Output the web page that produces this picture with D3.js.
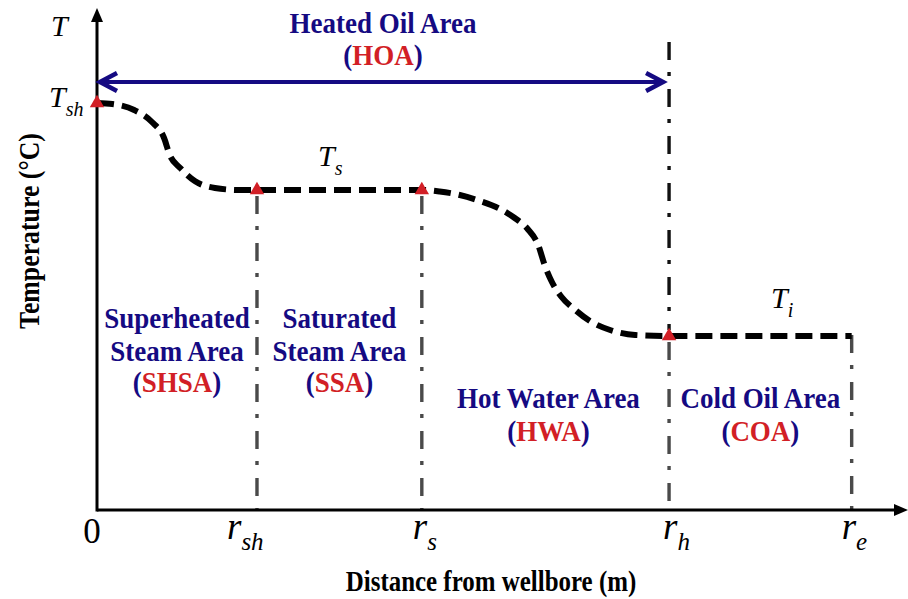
<!DOCTYPE html>
<html><head><meta charset="utf-8">
<script src="https://cdn.jsdelivr.net/npm/d3@7"></script>
<style>body{margin:0;background:#fff}svg{display:block}</style>
</head><body><svg id="c" width="908" height="599"></svg>
<script>
// ---------- data ----------
const tickValues = [0, 0.198, 0.402, 0.708, 0.934];
const tickMain = ["0", "r", "r", "r", "r"];
const tickSub = ["", "sh", "s", "h", "e"];
const levelValues = [0.814, 0.640, 0.348];
const levelSubs = ["sh", "s", "i"];
const curveX = [0, 0.019, 0.046, 0.068, 0.083, 0.090, 0.103, 0.121, 0.146, 0.177, 0.198,
                0.402, 0.424, 0.449, 0.474, 0.499, 0.517, 0.533, 0.546, 0.554, 0.563, 0.575,
                0.592, 0.610, 0.635, 0.666, 0.708, 0.934];
const curveY = [0.814, 0.812, 0.800, 0.776, 0.744, 0.710, 0.684, 0.658, 0.644, 0.640, 0.640,
                0.640, 0.637, 0.630, 0.618, 0.602, 0.584, 0.562, 0.530, 0.490, 0.456, 0.426,
                0.400, 0.378, 0.360, 0.350, 0.348, 0.348];
const markerX = [0, 0.198, 0.402, 0.708];
const markerY = [0.814, 0.640, 0.640, 0.348];
const regionTitles = [["Superheated", "Steam Area"], ["Saturated", "Steam Area"], ["Hot Water Area"], ["Cold Oil Area"]];
const regionAbbr = ["SHSA", "SSA", "HWA", "COA"];
const hoaTitle = "Heated Oil Area";
const hoaAbbr = "HOA";
const xTitle = "Distance from wellbore (m)";
const yTitle = "Temperature (°C)";

// ---------- layout ----------
const svg = d3.select("#c");
const x = d3.scaleLinear().domain([0, 1]).range([97, 905]);
const y = d3.scaleLinear().domain([0, 1]).range([510, 10]);
const BLUE = "#150a82", RED = "#d21f26", GRAY = "#4a4a4a";
const serif = "'Liberation Serif','Times New Roman',serif";
const tickLabelShift = [-5, -30, -9, -6, -10];

// vertical dash-dot boundaries
const dd = "18,12,4,13";
[1, 2].forEach(i => {
  svg.append("line").attr("x1", x(tickValues[i])).attr("x2", x(tickValues[i]))
    .attr("y1", y(markerY[i]) + 6).attr("y2", y(0))
    .attr("stroke", GRAY).attr("stroke-width", 3.4).attr("stroke-dasharray", dd);
});
svg.append("line").attr("x1", x(tickValues[3])).attr("x2", x(tickValues[3]))
  .attr("y1", 42).attr("y2", y(levelValues[2]) - 6)
  .attr("stroke", "#111").attr("stroke-width", 3.4).attr("stroke-dasharray", dd);
svg.append("line").attr("x1", x(tickValues[3])).attr("x2", x(tickValues[3]))
  .attr("y1", y(levelValues[2]) + 6).attr("y2", y(0))
  .attr("stroke", GRAY).attr("stroke-width", 3.4).attr("stroke-dasharray", dd);
svg.append("line").attr("x1", x(tickValues[4])).attr("x2", x(tickValues[4]))
  .attr("y1", y(levelValues[2]) - 1).attr("y2", y(0))
  .attr("stroke", GRAY).attr("stroke-width", 3.4).attr("stroke-dasharray", dd);

// axes
svg.append("line").attr("x1", x(0)).attr("x2", 896).attr("y1", y(0)).attr("y2", y(0))
  .attr("stroke", "#000").attr("stroke-width", 3);
svg.append("path").attr("d", `M908,${y(0)} L894,${y(0) - 6} L894,${y(0) + 6} Z`).attr("fill", "#000");
svg.append("line").attr("x1", x(0)).attr("x2", x(0)).attr("y1", y(0) + 1.5).attr("y2", 20)
  .attr("stroke", "#000").attr("stroke-width", 3);
svg.append("path").attr("d", `M${x(0)},8 L${x(0) - 6},22 L${x(0) + 6},22 Z`).attr("fill", "#000");

// temperature curve
const pts = curveX.map((v, i) => [v, curveY[i]]);
const line = d3.line().x(d => x(d[0])).y(d => y(d[1])).curve(d3.curveMonotoneX);
svg.append("path").attr("d", line(pts)).attr("fill", "none")
  .attr("stroke", "#000").attr("stroke-width", 6).attr("stroke-dasharray", "17,8");

// markers
const tri = d3.symbol(d3.symbolTriangle, 90)();
markerX.forEach((v, i) => {
  svg.append("path").attr("d", tri)
    .attr("transform", `translate(${x(v)},${y(markerY[i])})`).attr("fill", RED);
});

// HOA double arrow
const ay = 82, ax1 = x(0) + 3, ax2 = x(tickValues[3]) - 6;
svg.append("line").attr("x1", ax1 + 2).attr("x2", ax2 - 2).attr("y1", ay).attr("y2", ay)
  .attr("stroke", BLUE).attr("stroke-width", 4);
svg.append("path").attr("d", `M${ax1 + 17},${ay - 9} L${ax1},${ay} L${ax1 + 17},${ay + 9}`)
  .attr("fill", "none").attr("stroke", BLUE).attr("stroke-width", 4.5);
svg.append("path").attr("d", `M${ax2 - 17},${ay - 9} L${ax2},${ay} L${ax2 - 17},${ay + 9}`)
  .attr("fill", "none").attr("stroke", BLUE).attr("stroke-width", 4.5);

// bold region labels
function boldLabel(cx, by, txt, abbr) {
  const t = svg.append("text").attr("transform", `translate(${cx},${by}) scale(0.9,1)`)
    .attr("text-anchor", "middle").attr("font-family", serif).attr("font-weight", "bold")
    .attr("font-size", 30).attr("fill", BLUE);
  if (abbr) {
    t.append("tspan").text("(");
    t.append("tspan").attr("fill", RED).text(abbr);
    t.append("tspan").text(")");
  } else t.text(txt);
}
const centers = [
  (tickValues[0] + tickValues[1]) / 2, (tickValues[1] + tickValues[2]) / 2,
  (tickValues[2] + tickValues[3]) / 2, (tickValues[3] + tickValues[4]) / 2];
const labelTops = [328, 328, 408, 408];
regionTitles.forEach((lines, i) => {
  const cx = x(centers[i]) + (i === 2 ? 3 : 0);
  lines.forEach((ln, j) => boldLabel(cx, labelTops[i] + j * 33, ln));
  boldLabel(cx, labelTops[i] + lines.length * 33 - (lines.length === 2 ? 2 : 0), null, regionAbbr[i]);
});
const hoaCx = x((tickValues[0] + tickValues[3]) / 2);
boldLabel(hoaCx, 33, hoaTitle);
boldLabel(hoaCx, 65, null, hoaAbbr);

// italic symbol labels
function symLabel(px, by, main, sub, size, subSize, anchor) {
  const t = svg.append("text").attr("x", px).attr("y", by).attr("font-family", serif)
    .attr("font-style", "italic").attr("font-size", size).attr("fill", "#000")
    .attr("text-anchor", anchor || "start");
  t.append("tspan").text(main);
  if (sub) t.append("tspan").attr("font-size", subSize).attr("dy", size * 0.3).text(sub);
  return t;
}
symLabel(51, 36, "T", "", 30, 20);
symLabel(49, 107, "T", levelSubs[0], 30, 20);
symLabel(318, 166, "T", levelSubs[1], 30, 20);
symLabel(771, 308, "T", levelSubs[2], 30, 20);

// x tick labels
tickValues.forEach((v, i) => {
  if (i === 0) {
    svg.append("text").attr("x", x(v) + tickLabelShift[i]).attr("y", 543).attr("text-anchor", "middle")
      .attr("font-family", serif).attr("font-size", 35).text(tickMain[i]);
  } else {
    symLabel(x(v) + tickLabelShift[i], 539, tickMain[i], tickSub[i], 37, 25, "start");
  }
});

// axis titles
svg.append("text").attr("transform", "translate(491,591) scale(0.86,1)")
  .attr("text-anchor", "middle").attr("font-family", serif).attr("font-weight", "bold")
  .attr("font-size", 29).attr("fill", "#000").text(xTitle);
svg.append("text").attr("transform", "translate(39,231) rotate(-90) scale(0.86,1)")
  .attr("text-anchor", "middle").attr("font-family", serif).attr("font-weight", "bold")
  .attr("font-size", 30).attr("fill", "#000").text(yTitle);
</script></body></html>
